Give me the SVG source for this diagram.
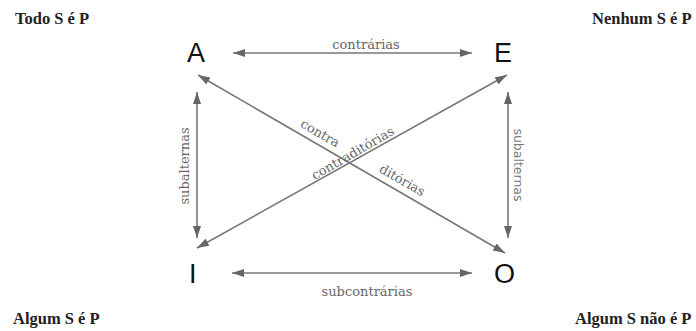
<svg xmlns="http://www.w3.org/2000/svg" width="696" height="331" viewBox="0 0 696 331">
<style>
.corner{font-family:"Liberation Serif",serif;font-weight:bold;font-size:16.5px;fill:#222}
.letter{font-family:"Liberation Sans",sans-serif;font-size:27px;fill:#111}
.lbl{font-family:"DejaVu Serif","Liberation Serif",serif;font-size:13px;fill:#666}
.lbls{font-family:"DejaVu Sans","Liberation Sans",sans-serif;font-size:12.5px;fill:#777}
.conn{stroke:#777;stroke-width:1.6;fill:none;marker-start:url(#ah);marker-end:url(#ah)}
</style>
<defs>
<marker id="ah" viewBox="0 0 12 8" refX="12" refY="4" markerWidth="12" markerHeight="8" markerUnits="userSpaceOnUse" orient="auto-start-reverse">
<path d="M0,0 L12,4 L0,8 Z" fill="#666"/>
</marker>
</defs>
<rect width="696" height="331" fill="#fff"/>
<g id="corner-A"><text class="corner" x="15" y="24">Todo S é P</text></g>
<g id="corner-E"><text class="corner" x="592" y="24">Nenhum S é P</text></g>
<g id="corner-I"><text class="corner" x="13" y="324">Algum S é P</text></g>
<g id="corner-O"><text class="corner" x="575" y="324">Algum S não é P</text></g>
<g id="node-A"><text class="letter" x="187" y="62">A</text></g>
<g id="node-E"><text class="letter" x="494" y="62">E</text></g>
<g id="node-I"><text class="letter" x="189" y="283">I</text></g>
<g id="node-O"><text class="letter" x="494" y="283">O</text></g>
<g id="connectors">
<line class="conn" x1="233" y1="53" x2="472" y2="53"/>
<line class="conn" x1="232" y1="273" x2="472" y2="273"/>
<line class="conn" x1="197" y1="92" x2="197" y2="238"/>
<line class="conn" x1="508" y1="92" x2="508" y2="238"/>
<line class="conn" x1="198" y1="75" x2="505" y2="253"/>
<line class="conn" x1="197" y1="248" x2="507" y2="75"/>
</g>
<g id="labels">
<text class="lbl" x="366" y="49" text-anchor="middle">contrárias</text>
<text class="lbl" x="367" y="296" text-anchor="middle">subcontrárias</text>
<text class="lbl" x="189" y="166" text-anchor="middle" transform="rotate(-90 189 166)">subalternas</text>
<text class="lbls" x="514" y="165" text-anchor="middle" transform="rotate(90 514 165)">subalternas</text>
<text class="lbl" x="318" y="137" text-anchor="middle" transform="rotate(30 318 137)">contra</text>
<text class="lbl" x="400" y="184" text-anchor="middle" transform="rotate(30 400 184)">ditórias</text>
<text class="lbl" x="355" y="157" text-anchor="middle" transform="rotate(-30 355 157)">contraditórias</text>
</g>
</svg>
